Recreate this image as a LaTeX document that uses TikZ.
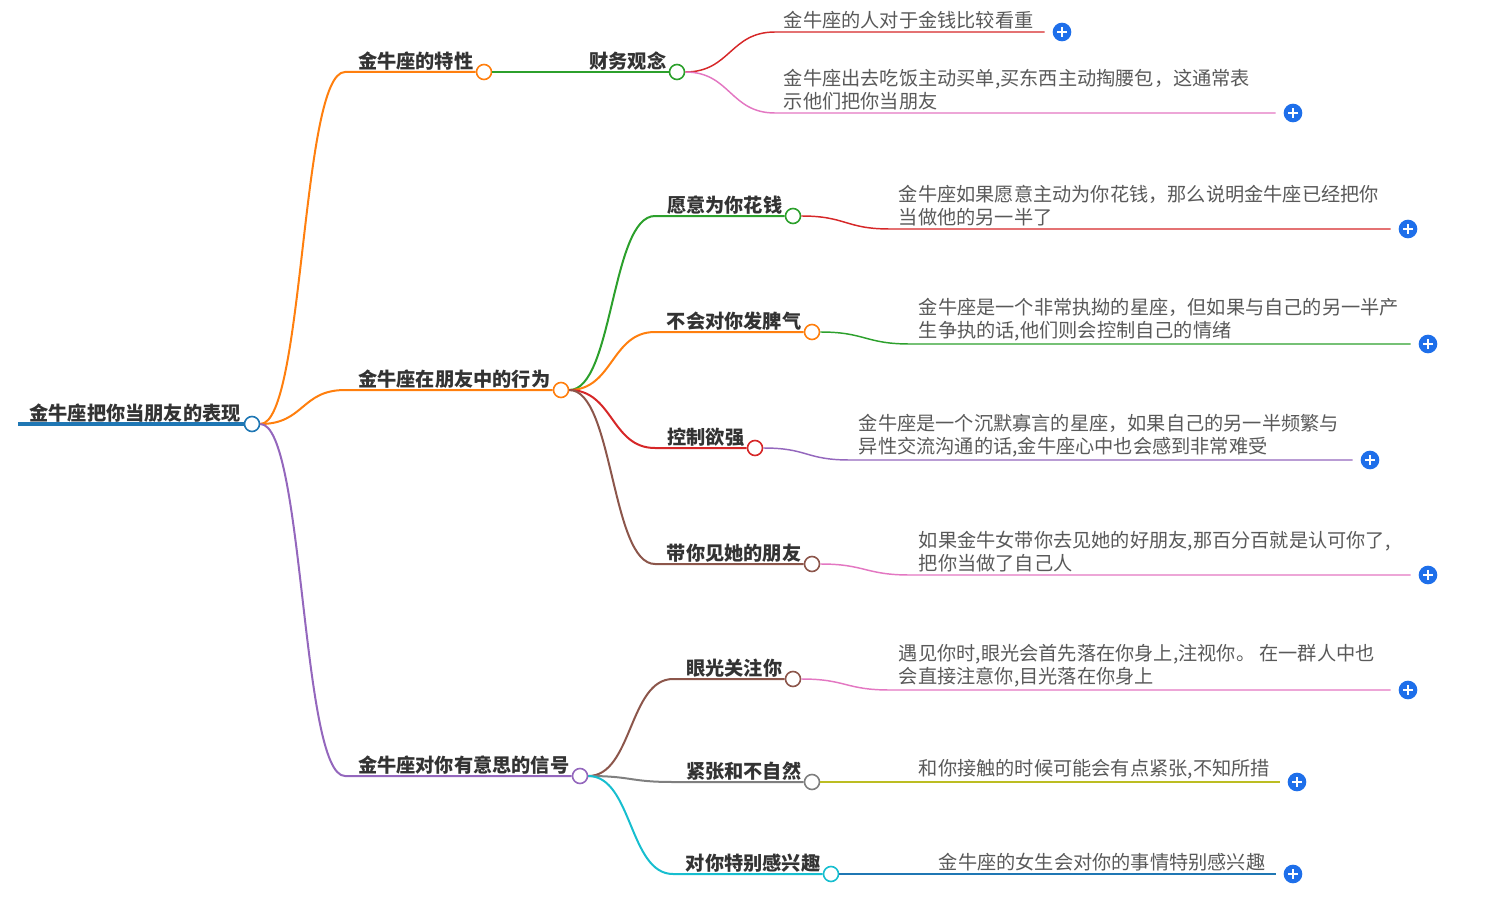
\documentclass[tikz,border=0pt]{standalone}
\usepackage{fontspec}
\setmainfont{Noto Sans CJK SC}
\usetikzlibrary{positioning}

\begin{document}
\begin{tikzpicture}[x=0.75pt, y=-0.75pt,
    dot/.style={circle, draw, fill=white, line width=1.2pt, minimum size=11.25pt, inner sep=0pt},
    topic/.style={font=\fontsize{14.4}{17}\selectfont\bfseries, text=labelColour, inner xsep=0pt, inner ysep=1pt},
    roottopic/.style={topic, font=\fontsize{14.4}{18}\selectfont\bfseries},
    leaf/.style={font=\fontsize{14.4}{17.25}\selectfont, text=leafColour, align=left, inner xsep=6.5pt, inner ysep=1.8pt, anchor=south west},
    branch/.style={line width=1.5pt},
    twig/.style={line width=1.1pt},
    plusbtn/.style={circle, fill=plusColour, minimum size=14pt, inner sep=0pt, outer sep=6pt,
        path picture={\draw[white, line width=1.5pt]
            ([xshift=-3.6pt]path picture bounding box.center) -- ([xshift=3.6pt]path picture bounding box.center)
            ([yshift=-3.6pt]path picture bounding box.center) -- ([yshift=3.6pt]path picture bounding box.center);}}
]
    % Define colours
    \definecolor{blueC}{HTML}{1F77B4}
    \definecolor{orangeC}{HTML}{FF7F0E}
    \definecolor{greenC}{HTML}{2CA02C}
    \definecolor{redC}{HTML}{D62728}
    \definecolor{purpleC}{HTML}{9467BD}
    \definecolor{brownC}{HTML}{8C564B}
    \definecolor{pinkC}{HTML}{E377C2}
    \definecolor{grayC}{HTML}{7F7F7F}
    \definecolor{oliveC}{HTML}{BCBD22}
    \definecolor{cyanC}{HTML}{17BECF}
    \definecolor{plusColour}{HTML}{1E6FEA}
    \definecolor{labelColour}{HTML}{333333}
    \definecolor{leafColour}{HTML}{595959}

    % Define curve bend
    \def\bend{44}

    \useasboundingbox (0,0) rectangle (1496,899);

    % Draw root
    \coordinate (rootL) at (18,424);
    \node[dot, draw=blueC] (root) at (252,424) {};
    \node[roottopic, left=8.25pt of root.center, anchor=south east] (rootT) {金牛座把你当朋友的表现};
    \draw[blueC, line width=3.2pt] (rootL) -- (root.west);

    % Draw first level
    \node[dot, draw=orangeC] (trait) at (484,72) {};
    \node[dot, draw=orangeC] (act) at (561,390) {};
    \node[dot, draw=purpleC] (sign) at (580,776) {};
    \node[topic, left=7.9pt of trait.center, anchor=south east] (traitT) {金牛座的特性};
    \node[topic, left=7.9pt of act.center, anchor=south east] (actT) {金牛座在朋友中的行为};
    \node[topic, left=7.9pt of sign.center, anchor=south east] (signT) {金牛座对你有意思的信号};

    \coordinate (k1) at (345,72);
    \coordinate (k2) at (345,390);
    \coordinate (k3) at (345,776);
    \draw[branch, orangeC] (root.east) .. controls +(\bend,0) and +(-\bend,0) .. (k1) -- (trait.west);
    \draw[branch, orangeC] (root.east) .. controls +(\bend,0) and +(-\bend,0) .. (k2) -- (act.west);
    \draw[branch, purpleC] (root.east) .. controls +(\bend,0) and +(-\bend,0) .. (k3) -- (sign.west);

    % Draw second level
    \node[dot, draw=greenC] (money) at (677,72) {};
    \node[dot, draw=greenC] (spend) at (793,216) {};
    \node[dot, draw=orangeC] (temper) at (812,332) {};
    \node[dot, draw=redC] (control) at (755,448) {};
    \node[dot, draw=brownC] (friends) at (812,564) {};
    \node[dot, draw=brownC] (eyes) at (793,679) {};
    \node[dot, draw=grayC] (nervous) at (812,782) {};
    \node[dot, draw=cyanC] (keen) at (831,874) {};

    \node[topic, left=7.9pt of money.center, anchor=south east] (moneyT) {财务观念};
    \node[topic, left=7.9pt of spend.center, anchor=south east] (spendT) {愿意为你花钱};
    \node[topic, left=7.9pt of temper.center, anchor=south east] (temperT) {不会对你发脾气};
    \node[topic, left=7.9pt of control.center, anchor=south east] (controlT) {控制欲强};
    \node[topic, left=7.9pt of friends.center, anchor=south east] (friendsT) {带你见她的朋友};
    \node[topic, left=7.9pt of eyes.center, anchor=south east] (eyesT) {眼光关注你};
    \node[topic, left=7.9pt of nervous.center, anchor=south east] (nervousT) {紧张和不自然};
    \node[topic, left=7.9pt of keen.center, anchor=south east] (keenT) {对你特别感兴趣};

    \coordinate (k4) at (655,216);
    \coordinate (k5) at (655,332);
    \coordinate (k6) at (655,448);
    \coordinate (k7) at (655,564);
    \coordinate (k8) at (673,679);
    \coordinate (k9) at (673,782);
    \coordinate (k10) at (673,874);
    \draw[branch, greenC] (trait.east) -- (money.west);
    \draw[branch, greenC] (act.east) .. controls +(\bend,0) and +(-\bend,0) .. (k4) -- (spend.west);
    \draw[branch, orangeC] (act.east) .. controls +(\bend,0) and +(-\bend,0) .. (k5) -- (temper.west);
    \draw[branch, redC] (act.east) .. controls +(\bend,0) and +(-\bend,0) .. (k6) -- (control.west);
    \draw[branch, brownC] (act.east) .. controls +(\bend,0) and +(-\bend,0) .. (k7) -- (friends.west);
    \draw[branch, brownC] (sign.east) .. controls +(\bend,0) and +(-\bend,0) .. (k8) -- (eyes.west);
    \draw[branch, grayC] (sign.east) .. controls +(\bend,0) and +(-\bend,0) .. (k9) -- (nervous.west);
    \draw[branch, cyanC] (sign.east) .. controls +(\bend,0) and +(-\bend,0) .. (k10) -- (keen.west);

    % Draw plus buttons
    \foreach \n/\x/\y in {1/1062/32, 2/1293/113, 3/1408/229, 4/1428/344, 5/1370/460,
                          6/1428/575, 7/1408/690, 8/1297/782, 9/1293/874}
        \node[plusbtn] (p\n) at (\x,\y) {};

    % Draw leaves
    \node[leaf] (l1) at (775,32) {金牛座的人对于金钱比较看重};
    \node[leaf] (l2) at (775,113) {金牛座出去吃饭主动买单,买东西主动掏腰包，这通常表\\示他们把你当朋友};
    \node[leaf] (l3) at (890,229) {金牛座如果愿意主动为你花钱，那么说明金牛座已经把你\\当做他的另一半了};
    \node[leaf] (l4) at (910,344) {金牛座是一个非常执拗的星座，但如果与自己的另一半产\\生争执的话,他们则会控制自己的情绪};
    \node[leaf] (l5) at (850,460) {金牛座是一个沉默寡言的星座，如果自己的另一半频繁与\\异性交流沟通的话,金牛座心中也会感到非常难受};
    \node[leaf] (l6) at (910,575) {如果金牛女带你去见她的好朋友,那百分百就是认可你了,\\把你当做了自己人};
    \node[leaf] (l7) at (890,690) {遇见你时,眼光会首先落在你身上,注视你。 在一群人中也\\会直接注意你,目光落在你身上};
    \node[leaf] (l8) at (910,782) {和你接触的时候可能会有点紧张,不知所措};
    \node[leaf] (l9) at (930,874) {金牛座的女生会对你的事情特别感兴趣};

    \draw[twig, redC] (money.east) .. controls +(45,0) and +(-45,0) .. (l1.south west) -- (l1.south west -| p1.west);
    \draw[twig, pinkC] (money.east) .. controls +(45,0) and +(-45,0) .. (l2.south west) -- (l2.south west -| p2.west);
    \draw[twig, redC] (spend.east) .. controls +(45,0) and +(-45,0) .. (l3.south west) -- (l3.south west -| p3.west);
    \draw[twig, greenC] (temper.east) .. controls +(45,0) and +(-45,0) .. (l4.south west) -- (l4.south west -| p4.west);
    \draw[twig, purpleC] (control.east) .. controls +(45,0) and +(-45,0) .. (l5.south west) -- (l5.south west -| p5.west);
    \draw[twig, pinkC] (friends.east) .. controls +(45,0) and +(-45,0) .. (l6.south west) -- (l6.south west -| p6.west);
    \draw[twig, pinkC] (eyes.east) .. controls +(45,0) and +(-45,0) .. (l7.south west) -- (l7.south west -| p7.west);
    \draw[twig, oliveC] (nervous.east) .. controls +(45,0) and +(-45,0) .. (l8.south west) -- (l8.south west -| p8.west);
    \draw[twig, blueC] (keen.east) .. controls +(45,0) and +(-45,0) .. (l9.south west) -- (l9.south west -| p9.west);

\end{tikzpicture}
\end{document}
